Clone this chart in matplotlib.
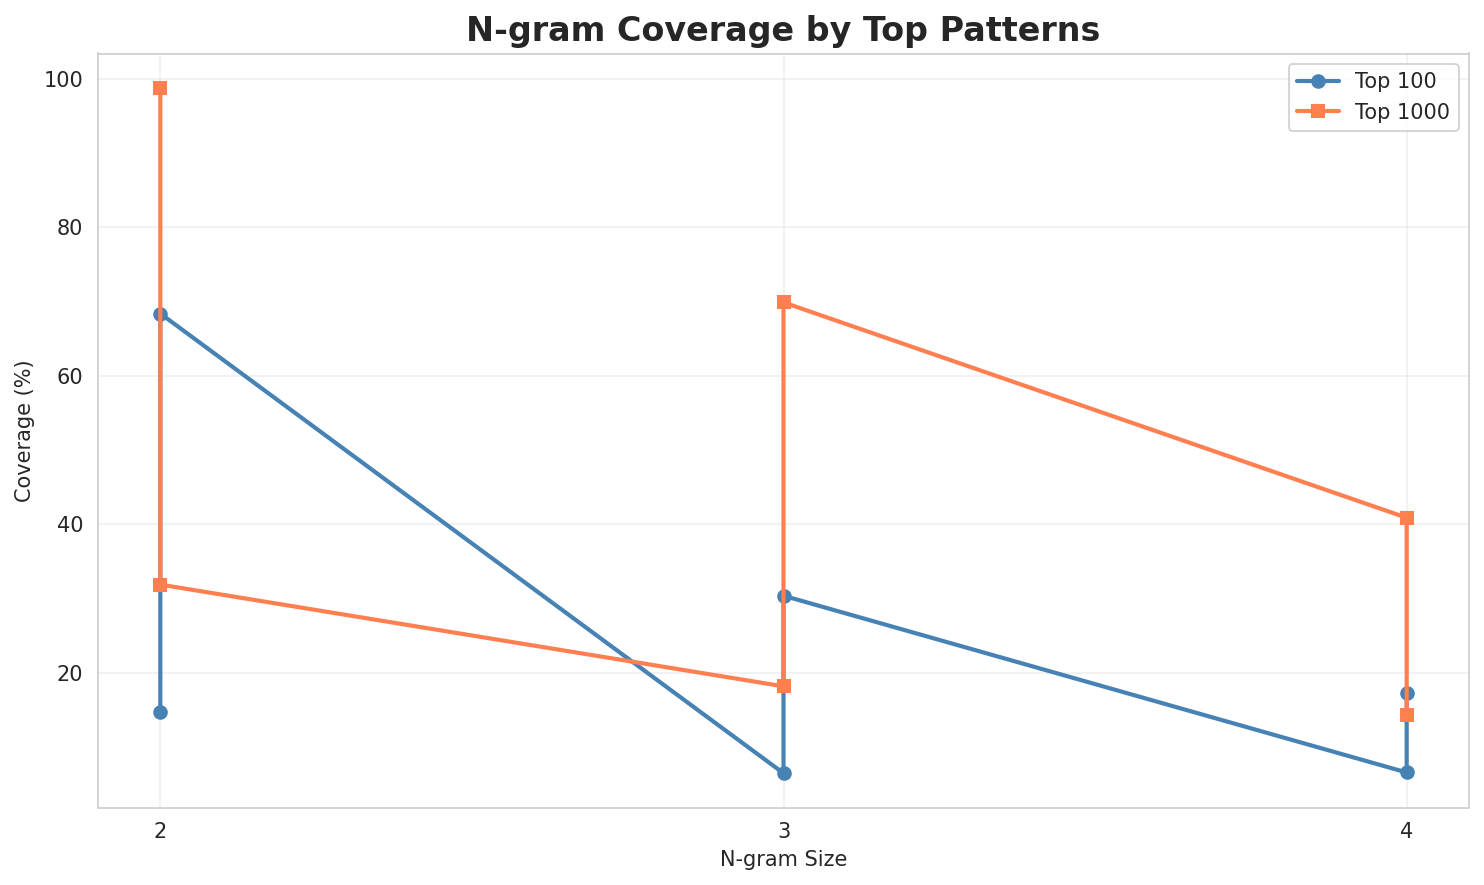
import matplotlib
matplotlib.use("Agg")
import matplotlib.pyplot as plt
import seaborn as sns

sns.set_style("whitegrid")

ngram_top100 = [2, 2, 3, 3, 4, 4]
cov_top100 = [14.8, 68.4, 6.5, 30.4, 6.6, 17.3]
ngram_top1000 = [2, 2, 3, 3, 4, 4]
cov_top1000 = [98.8, 31.9, 18.2, 69.9, 40.9, 14.4]
xticks = [2, 3, 4]

fig, ax = plt.subplots(figsize=(1484 / 150, 885 / 150), dpi=150)
ax.plot(ngram_top100, cov_top100, marker="o", color="steelblue", linewidth=2, markersize=6, label="Top 100")
ax.plot(ngram_top1000, cov_top1000, marker="s", color="coral", linewidth=2, markersize=6, label="Top 1000")
ax.set_xticks(xticks)
ax.tick_params(labelsize=10)
ax.set_xlabel("N-gram Size", fontsize=10)
ax.set_ylabel("Coverage (%)", fontsize=10)
ax.set_title("N-gram Coverage by Top Patterns", fontsize=16, fontweight="bold")
ax.legend(fontsize=10)
ax.grid(True, alpha=0.3)
fig.subplots_adjust(left=98 / 1484, right=1469 / 1484, top=1 - 53.5 / 885, bottom=1 - 807.5 / 885)
fig.savefig("out.png", dpi=150)
